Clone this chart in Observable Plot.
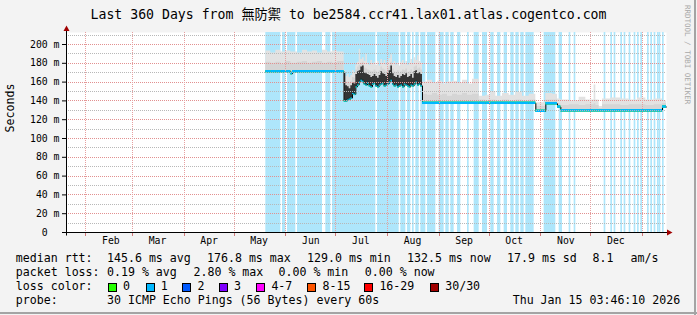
<!DOCTYPE html>
<html><head><meta charset="utf-8">
<script src="https://cdn.jsdelivr.net/npm/d3@7"></script>
<script src="https://cdn.jsdelivr.net/npm/@observablehq/plot@0.6"></script>
<style>
html,body{margin:0;padding:0;background:#f3f3f3;}
#wrap{position:relative;width:697px;height:315px;overflow:hidden;background:#f3f3f3;font-family:"DejaVu Sans Mono",monospace;color:#000;}
#wrap svg{position:absolute;left:0;top:0;}
.t{position:absolute;white-space:pre;font-size:11.6px;line-height:1;font-family:"DejaVu Sans Mono","Noto Sans CJK TC",monospace;}
.box{position:absolute;width:9px;height:9px;box-sizing:border-box;border:1px solid #000;}
</style></head><body><div id="wrap"></div>
<script>
// ---------- data ----------
const titleText = "Last 360 Days from 無防禦 to be2584.ccr41.lax01.atlas.cogentco.com";
const domainStart = "2025-01-20T09:40:00Z";
const domainEnd = "2026-01-15T09:40:00Z";
const monthStarts = ["2025-02-01","2025-03-01","2025-04-01","2025-05-01","2025-06-01","2025-07-01","2025-08-01","2025-09-01","2025-10-01","2025-11-01","2025-12-01","2026-01-01"];
const monthNames = ["Feb","Mar","Apr","May","Jun","Jul","Aug","Sep","Oct","Nov","Dec"];
const yTicks = [0,20,40,60,80,100,120,140,160,180,200];
const yMinor = [10,30,50,70,90,110,130,150,170,190,210];

// [date, median rtt (ms), inner smoke top (ms), outer smoke top (ms)]
const smokeRows = [
 ["2025-05-20",171,181,193],["2025-05-23",171,180,191],["2025-05-26",171,181,194],["2025-05-29",171,179,192],
 ["2025-06-01",171,182,193],["2025-06-04",169,180,192],["2025-06-05",171,180,192],["2025-06-08",171,181,191],
 ["2025-06-11",171,182,194],["2025-06-14",171,180,192],["2025-06-17",171,181,193],["2025-06-20",171,182,191],
 ["2025-06-23",171,180,194],["2025-06-26",171,181,192],["2025-06-29",171,180,193],["2025-07-02",171,182,192],
 ["2025-07-06",140,168,172],["2025-07-07",140,160,166],["2025-07-08",141,160,168],["2025-07-09",142,159,165],
 ["2025-07-10",143,161,167],["2025-07-11",148,165,172],["2025-07-12",147,164,170],["2025-07-13",155,173,178],
 ["2025-07-14",157,176,181],["2025-07-15",160,178,195],["2025-07-16",162,180,184],["2025-07-17",161,181,186],
 ["2025-07-18",158,175,182],["2025-07-19",157,174,190],["2025-07-20",159,173,180],["2025-07-21",156,172,178],
 ["2025-07-22",155,171,183],["2025-07-23",158,171,179],["2025-07-24",159,173,181],["2025-07-25",156,171,178],
 ["2025-07-26",155,170,182],["2025-07-27",157,172,177],["2025-07-28",158,176,184],["2025-07-29",159,174,180],
 ["2025-07-30",156,173,183],["2025-07-31",157,171,178],["2025-08-01",158,175,181],["2025-08-02",160,177,185],
 ["2025-08-03",162,181,189],["2025-08-04",158,174,180],["2025-08-05",156,171,182],["2025-08-06",157,170,178],
 ["2025-08-07",155,172,180],["2025-08-08",156,169,177],["2025-08-09",157,171,181],["2025-08-10",155,173,183],
 ["2025-08-11",158,172,179],["2025-08-12",157,174,182],["2025-08-13",156,170,178],["2025-08-14",155,171,180],
 ["2025-08-15",157,173,184],["2025-08-16",156,169,179],["2025-08-17",158,176,186],["2025-08-18",160,177,183],
 ["2025-08-19",157,174,188],["2025-08-20",158,175,182],["2025-08-21",156,173,180],
 ["2025-08-22",137.5,147,160],["2025-08-25",137.5,146,162],["2025-08-28",137.5,148,159],["2025-08-31",137.5,146,161],
 ["2025-09-03",137.5,147,158],["2025-09-06",137.5,145,160],["2025-09-09",137.5,147,161],["2025-09-12",137.5,146,159],
 ["2025-09-15",137.5,148,162],["2025-09-18",137.5,146,158],["2025-09-21",137.5,147,163],
 ["2025-09-25",137.5,141,145],["2025-09-29",137.5,140,146],["2025-10-02",137.5,141,150],["2025-10-05",137.5,140,145],
 ["2025-10-09",137.5,141,148],["2025-10-13",137.5,140,146],["2025-10-17",137.5,141,149],["2025-10-21",137.5,140,145],
 ["2025-10-25",137.5,141,147],
 ["2025-10-29",129,134,138],
 ["2025-11-04",137,141,148],["2025-11-08",137,141,147],["2025-11-11",133.5,137,142],
 ["2025-11-13",129.5,135,141],["2025-11-18",129.5,136,140],["2025-11-24",129.5,135,144],["2025-11-28",129.5,136,141],
 ["2025-12-03",129.5,137,157],["2025-12-04",129.5,135,141],["2025-12-06",129.5,132,134],["2025-12-08",129.5,136,142],
 ["2025-12-13",129.5,136,143],["2025-12-19",129.5,135,142],["2025-12-24",129.5,136,141],["2025-12-29",129.5,136,143],
 ["2026-01-03",129.5,135,141],["2026-01-08",129.5,136,142],["2026-01-13",133.5,137,140],["2026-01-15T09:00:00Z",133.5,137,140]
];

// intraday median swing in the unstable weeks: [date, low ms, high ms]
const jitterRows = [
 ["2025-07-06",140,170],["2025-07-07",140,156],["2025-07-08",141,155],["2025-07-09",142,153],["2025-07-10",143,156],
 ["2025-07-11",148,159],["2025-07-12",147,158],["2025-07-13",155,168],["2025-07-14",157,171],["2025-07-15",160,172],
 ["2025-07-16",162,176],["2025-07-17",161,177],["2025-07-18",158,170],["2025-07-19",157,169],["2025-07-20",159,168],
 ["2025-07-21",156,167],["2025-07-22",155,165],["2025-07-23",158,166],["2025-07-24",159,168],["2025-07-25",156,166],
 ["2025-07-26",155,164],["2025-07-27",157,167],["2025-07-28",158,171],["2025-07-29",159,169],["2025-07-30",156,168],
 ["2025-07-31",157,166],["2025-08-01",158,170],["2025-08-02",160,172],["2025-08-03",162,177],["2025-08-04",158,169],
 ["2025-08-05",156,166],["2025-08-06",157,165],["2025-08-07",155,167],["2025-08-08",156,164],["2025-08-09",157,166],
 ["2025-08-10",155,168],["2025-08-11",158,167],["2025-08-12",157,169],["2025-08-13",156,165],["2025-08-14",155,166],
 ["2025-08-15",157,168],["2025-08-16",156,164],["2025-08-17",158,171],["2025-08-18",160,172],["2025-08-19",157,169],
 ["2025-08-20",158,170],["2025-08-21",156,168],["2025-08-22",156,168]
];

// days with 1 lost ping out of 30 (first day, last day inclusive)
const lossOneSpans = [
 ["2025-05-20","2025-05-28"],["2025-05-30","2025-05-31"],["2025-06-02","2025-06-06"],["2025-06-08","2025-06-22"],
 ["2025-06-25","2025-06-27"],["2025-06-29","2025-07-24"],["2025-07-26","2025-08-07"],["2025-08-09","2025-08-11"],
 ["2025-08-13","2025-08-14"],["2025-08-16","2025-08-16"],["2025-08-18","2025-08-19"],["2025-08-21","2025-08-23"],
 ["2025-08-25","2025-08-29"],["2025-09-01","2025-09-03"],["2025-09-05","2025-09-06"],["2025-09-08","2025-09-09"],
 ["2025-09-12","2025-09-13"],["2025-09-18","2025-09-18"],["2025-09-22","2025-09-24"],["2025-09-27","2025-09-29"],
 ["2025-10-02","2025-10-03"],["2025-10-06","2025-10-07"],["2025-10-10","2025-10-11"],["2025-10-14","2025-10-15"],
 ["2025-10-17","2025-10-18"],["2025-10-20","2025-10-21"],["2025-10-23","2025-10-27"],["2025-11-03","2025-11-09"],
 ["2025-11-12","2025-11-13"],["2025-11-18","2025-11-18"],["2025-11-21","2025-11-21"],["2025-12-09","2025-12-09"],
 ["2025-12-13","2025-12-13"],["2025-12-15","2025-12-15"],["2025-12-19","2025-12-19"],["2025-12-21","2025-12-21"],
 ["2025-12-24","2025-12-24"],["2025-12-27","2025-12-27"],["2025-12-29","2025-12-29"],["2025-12-31","2025-12-31"],
 ["2026-01-04","2026-01-04"],["2026-01-06","2026-01-06"],["2026-01-08","2026-01-08"],["2026-01-10","2026-01-10"],
 ["2026-01-11","2026-01-11"],["2026-01-13","2026-01-13"]
];

const lossColorLabels = ["0","1","2","3","4-7","8-15","16-29","30/30"];
const lossColors = ["#26ff00","#00b8ff","#0059ff","#7e00ff","#ff00ff","#ff5500","#ff0000","#a00000"];
const rttLabel = "median rtt:";
const rttStats = ["145.6 ms avg","176.8 ms max","129.0 ms min","132.5 ms now","17.9 ms sd","8.1","am/s"];
const lossLabel = "packet loss:";
const lossStats = ["0.19 % avg","2.80 % max","0.00 % min","0.00 % now"];
const lossColorLabel = "loss color:";
const probeLabel = "probe:";
const probeText = "30 ICMP Echo Pings (56 Bytes) every 60s";
const stampText = "Thu Jan 15 03:46:10 2026";
const yLabel = "Seconds";
const creditText = "RRDTOOL / TOBI OETIKER";

// ---------- build ----------
const day = 864e5;
const start = new Date(domainStart), end = new Date(domainEnd);
const rows = smokeRows.map(([d,m,mid,hi]) => ({date:new Date(d), median:m, mid, hi}));
const segs = rows.slice(0,-1).map((r,i) => ({x1:r.date, x2:rows[i+1].date, m:r.median}));
const jitter = jitterRows.map(([d,lo,hi]) => ({date:new Date(d), lo, hi}));
const spans = lossOneSpans.map(([a,b]) => ({start:new Date(a), end:new Date(+new Date(b)+day)}));
const mStarts = monthStarts.map(d => new Date(d));
const mLabels = monthNames.map((n,i) => ({date:new Date(+mStarts[i] + 15*day), name:n}));
const YMAX = 212.77;
const FS = "9.8px";

const band = (color, label) => Plot.rect(segs, {x1:"x1", x2:"x2", y1:"m", y2:"m", insetTop:-1.25, insetBottom:-1.25, fill:color, ariaLabel:label});

const chart = Plot.plot({
  width:697, height:262, marginLeft:66, marginRight:31, marginTop:32, marginBottom:30,
  x:{type:"utc", domain:[start,end], axis:null, grid:false},
  y:{domain:[0,YMAX], axis:null, grid:false},
  style:{background:"transparent", fontFamily:"'DejaVu Sans Mono', monospace", fontSize:FS, color:"#000", overflow:"visible"},
  marks:[
    Plot.frame({fill:"#ffffff", stroke:"none"}),
    Plot.rect(spans, {x1:"start", x2:"end", fill:"#aee6fb", inset:0, ariaLabel:"loss-bg"}),
    Plot.areaY(rows, {x:"date", y1:"median", y2:"hi", curve:"step-after", fill:"#e2e2e2"}),
    Plot.areaY(rows, {x:"date", y1:"median", y2:"mid", curve:"step-after", fill:"#d5d5d5"}),
    Plot.line(rows, {x:"date", y:"median", curve:"step-after", stroke:"#000", strokeWidth:1}),
    band(lossColors[0], "loss-0"),
    band(lossColors[1], "loss-1"),
    Plot.areaY(jitter, {x:"date", y1:"lo", y2:"hi", curve:"step-after", fill:"#222222", fillOpacity:0.9}),
    Plot.axisY(yTicks, {tickSize:4, tickPadding:3, label:null, fontSize:FS,
      tickFormat:d => d === 0 ? "0\u00a0\u00a0" : d + " m"}),
    Plot.text(mLabels, {x:"date", text:"name", frameAnchor:"bottom", dy:11, fontSize:FS}),
    Plot.text([yLabel], {frameAnchor:"left", dx:-56, rotate:-90, fontSize:11.6})
  ]
});

const svg = d3.select(chart);
const X = chart.scale("x"), Y = chart.scale("y");
const xL = X.apply(start), xR = X.apply(end), yB = Y.apply(0), yT = Y.apply(YMAX);
const x0 = xL + 0.5, y0 = yB + 0.5;
const defs = svg.append("defs");
// dotted grid patterns (1px on / 1px off)
function pattern(id, w, h, color) {
  const p = defs.append("pattern").attr("id", id).attr("patternUnits","userSpaceOnUse").attr("x",0).attr("y",0).attr("width",w).attr("height",h);
  p.append("rect").attr("x",0).attr("y",0).attr("width",1).attr("height",1).attr("fill",color);
}
pattern("dotGray", 2, 1, "#b8b8b8");
pattern("dotPinkH", 2, 1, "#e29090");
pattern("dotPinkV", 1, 2, "#e6a0a0");
const grid = svg.append("g").attr("aria-label","grid");
const gl = Math.round(xL) + 1, gr = Math.round(xR);
const hline = (v, fill) => grid.append("rect").attr("x", gl).attr("y", Math.round(Y.apply(v)))
  .attr("width", gr - gl).attr("height", 1).attr("fill", fill);
yMinor.forEach(v => hline(v, "url(#dotGray)"));
yTicks.slice(1).forEach(v => hline(v, "url(#dotPinkH)"));
mStarts.forEach(d => { const xx = Math.round(X.apply(d));
  grid.append("rect").attr("x",xx).attr("y",Math.round(yT)).attr("width",1).attr("height",Math.round(yB)-Math.round(yT)).attr("fill","url(#dotPinkV)");
  grid.append("rect").attr("x",xx).attr("y",Math.round(yB)+1).attr("width",1).attr("height",3).attr("fill","#d07a7a"); });
// axis lines + arrows
svg.append("line").attr("x1",62).attr("x2",xR+4).attr("y1",y0).attr("y2",y0).attr("stroke","#000");
svg.append("line").attr("x1",x0).attr("x2",x0).attr("y1",y0+3).attr("y2",28).attr("stroke","#000");
svg.append("path").attr("d",`M${x0-3},${31}L${x0+3},${31}L${x0},${25.5}Z`).attr("fill","#a00000");
svg.append("path").attr("d",`M${xR+1},${y0-3}L${xR+1},${y0+3}L${xR+6.5},${y0}Z`).attr("fill","#a00000");
// clip loss-1 colour band to the loss days
const cp = defs.append("clipPath").attr("id","loss1clip");
spans.forEach(s => cp.append("rect").attr("x",X.apply(s.start)).attr("width",X.apply(s.end)-X.apply(s.start)).attr("y",0).attr("height",262));
svg.selectAll('g[aria-label="loss-1"]').attr("clip-path","url(#loss1clip)");

const wrap = document.getElementById("wrap");
wrap.appendChild(chart);

// ---------- title, legend, credit ----------
function txt(s, x, baseline, fs, extra) {
  const el = document.createElement("div");
  el.className = "t";
  el.textContent = s;
  el.style.fontSize = fs + "px";
  el.style.left = x + "px";
  el.style.top = (baseline - 0.846*fs) + "px";
  if (extra) Object.assign(el.style, extra);
  wrap.appendChild(el);
  return el;
}
txt(titleText, 0, 19.6, 13.2, {width:"697px", textAlign:"center"});
const LF = 11.6;
const rows4 = [262.5, 276.5, 290.5, 304.5];
txt(rttLabel, 15.8, rows4[0], LF);
[107, 207, 307, 407, 507, 592.5, 630.5].forEach((x,i) => txt(rttStats[i], x, rows4[0], LF));
txt(lossLabel, 15.8, rows4[1], LF);
[107, 193.5, 278.5, 364.8].forEach((x,i) => txt(lossStats[i], x, rows4[1], LF));
txt(lossColorLabel, 15.8, rows4[2], LF);
const boxX = [108, 145.8, 182.2, 219.1, 256.4, 306.7, 364.4, 429.8];
const labX = [123, 160.7, 197.6, 234.1, 271.4, 322.5, 379.4, 445.2];
lossColorLabels.forEach((l,i) => {
  const b = document.createElement("div");
  b.className = "box";
  b.style.left = boxX[i] + "px"; b.style.top = "282.5px"; b.style.background = lossColors[i];
  wrap.appendChild(b);
  txt(l, labX[i], rows4[2], LF);
});
txt(probeLabel, 15.8, rows4[3], LF);
txt(probeText, 107, rows4[3], LF);
txt(stampText, 512.7, rows4[3], LF);
txt(creditText, 690.5, 5, 7.5, {transformOrigin:"0 0", transform:"rotate(90deg)", color:"#a8a8a8", top:"5px"});

// frame edges
const edge = (css) => { const e = document.createElement("div"); e.style.position="absolute"; Object.assign(e.style, css); wrap.appendChild(e); };
edge({left:"694px", top:"0px", width:"2px", height:"315px", background:"#a4a4a4"});
edge({left:"0px", top:"312px", width:"697px", height:"2px", background:"#a4a4a4"});
</script></body></html>
